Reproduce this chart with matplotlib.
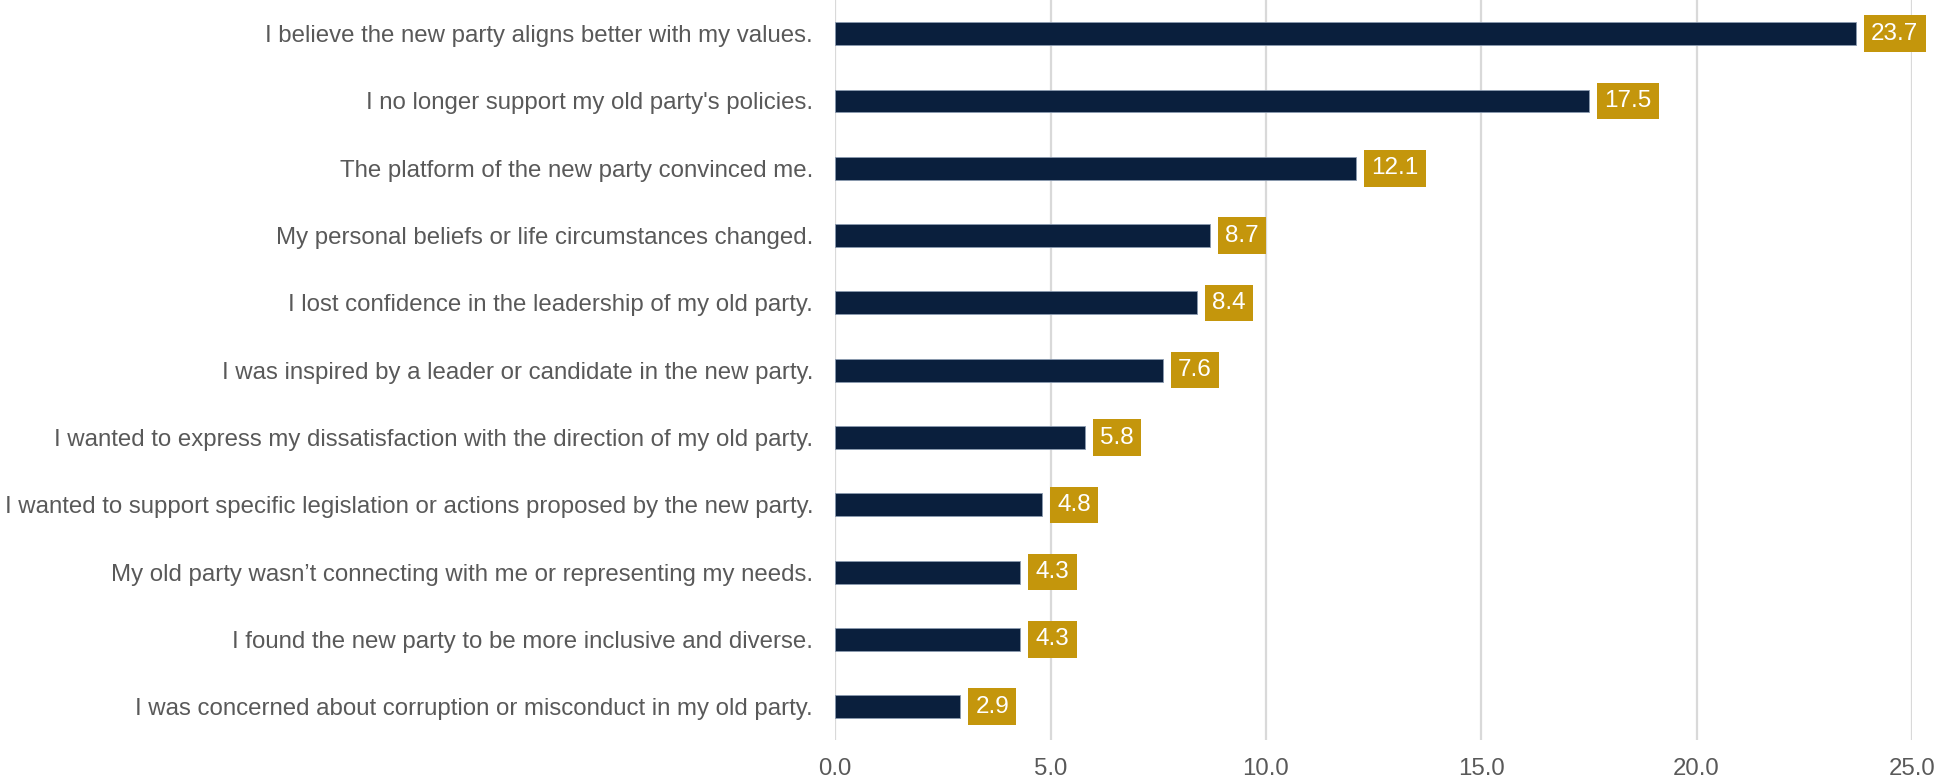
import matplotlib.pyplot as plt
import numpy as np

plt.rcParams['font.family'] = ['Liberation Sans', 'DejaVu Sans']

reasons = [
    "I believe the new party aligns better with my values.",
    "I no longer support my old party's policies.",
    "The platform of the new party convinced me.",
    "My personal beliefs or life circumstances changed.",
    "I lost confidence in the leadership of my old party.",
    "I was inspired by a leader or candidate in the new party.",
    "I wanted to express my dissatisfaction with the direction of my old party.",
    "I wanted to support specific legislation or actions proposed by the new party.",
    "My old party wasn\u2019t connecting with me or representing my needs.",
    "I found the new party to be more inclusive and diverse.",
    "I was concerned about corruption or misconduct in my old party.",
]
values = [23.7, 17.5, 12.1, 8.7, 8.4, 7.6, 5.8, 4.8, 4.3, 4.3, 2.9]
xticks = [0, 5, 10, 15, 20, 25]

bar_color = "#0a1f3d"
box_color = "#c4960c"
text_color = "#595959"

fig = plt.figure(figsize=(19.38, 7.81), dpi=100)
ax = fig.add_axes([0.431, 0.052, 0.5555, 0.948])

y = np.arange(len(values))
ax.barh(y, values, height=0.34, color=bar_color, edgecolor="#8a9ab0", linewidth=0.6, zorder=3)
for yi, v in zip(y, values):
    ax.annotate(f"{v:.1f}", xy=(v, yi), xytext=(11, 0), textcoords="offset points",
                ha="left", va="center", color="white", fontsize=17.5,
                bbox=dict(boxstyle="square,pad=0.3", fc=box_color, ec="none"),
                zorder=4, annotation_clip=False)

ax.set_xlim(0, 25)
ax.set_ylim(len(values) - 0.5, -0.5)
ax.set_yticks(y)
ax.set_yticklabels(reasons)
ax.set_xticks(xticks)
ax.set_xticklabels([f"{t:.1f}" for t in xticks])
ax.tick_params(axis="both", length=0, labelsize=17.3, labelcolor=text_color)
ax.tick_params(axis="y", pad=16)
ax.tick_params(axis="x", pad=13)
ax.grid(axis="x", color="#d9d9d9", linewidth=1.6, zorder=0)
for s in ax.spines.values():
    s.set_visible(False)

fig.savefig("out.png", dpi=100)
